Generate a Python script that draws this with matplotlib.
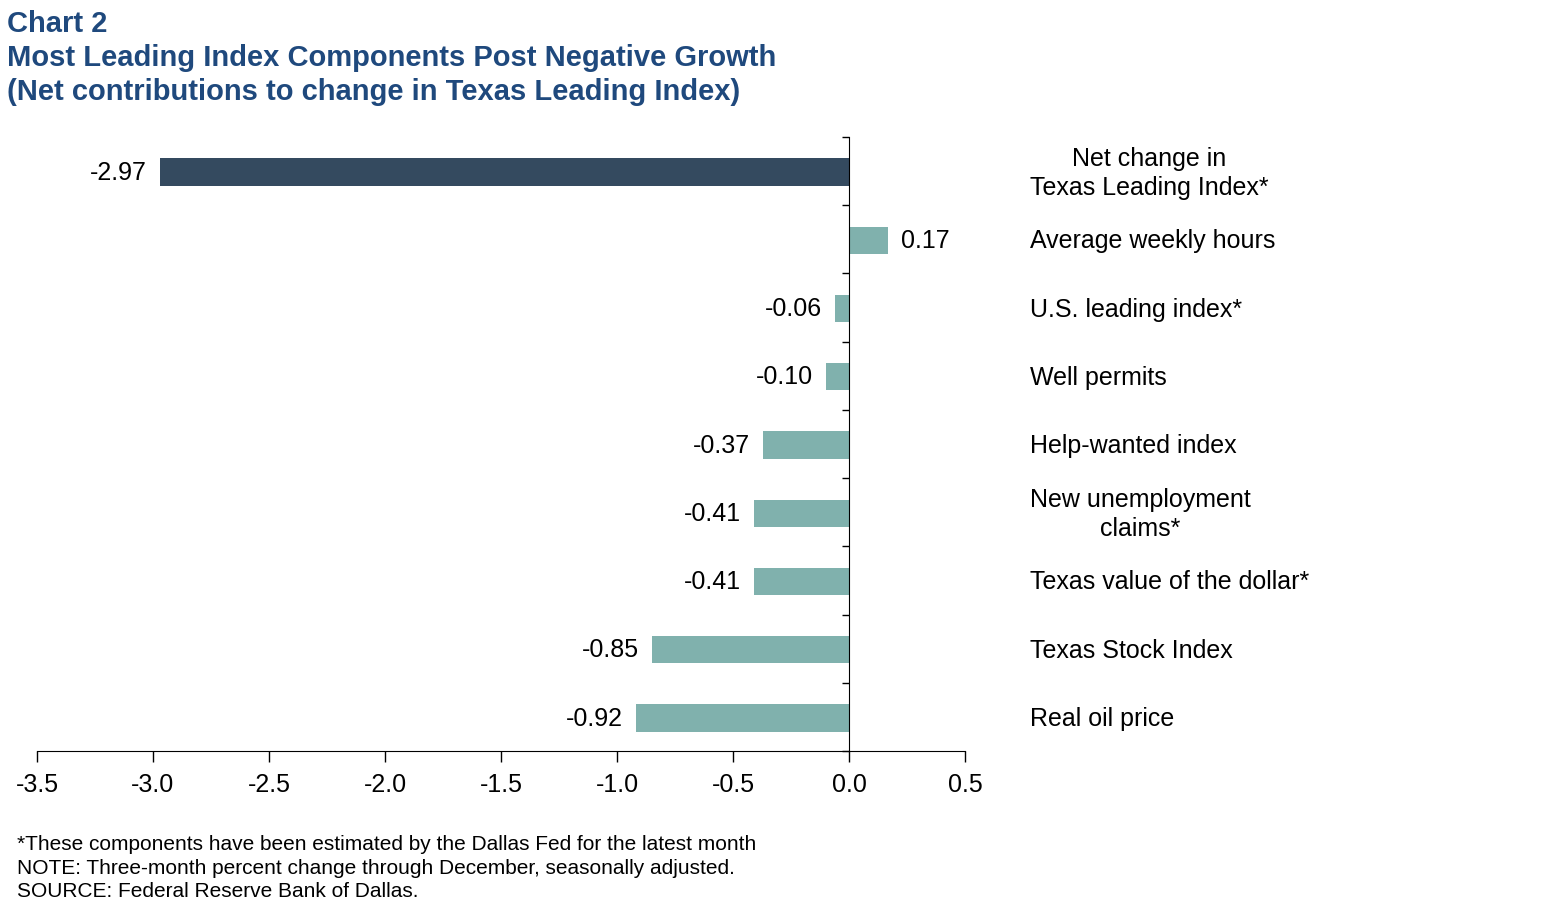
import matplotlib.pyplot as plt
import numpy as np

plt.rcParams['font.family'] = ['Liberation Sans', 'DejaVu Sans']

categories = ['Net change in\nTexas Leading Index*', 'Average weekly hours',
              'U.S. leading index*', 'Well permits', 'Help-wanted index',
              'New unemployment\nclaims*', 'Texas value of the dollar*',
              'Texas Stock Index', 'Real oil price']
values = [-2.97, 0.17, -0.06, -0.10, -0.37, -0.41, -0.41, -0.85, -0.92]
x_ticks = [-3.5, -3.0, -2.5, -2.0, -1.5, -1.0, -0.5, 0.0, 0.5]

dark = '#344a5f'
teal = '#80b1ad'
title_color = '#1f497d'

fig = plt.figure(figsize=(15.58, 9.22), dpi=100)
ax = fig.add_axes([0.02375, 0.1855, 0.5956, 0.6659])

y = np.arange(len(values))
colors = [dark] + [teal] * (len(values) - 1)
ax.barh(y + 0.015, values, height=0.4, color=colors, zorder=2)

# value labels beside each bar
for yi, v in zip(y, values):
    if v < 0:
        ax.text(v - 0.055, yi + 0.025, f'{v:.2f}', ha='right', va='center', fontsize=18)
    else:
        ax.text(v + 0.055, yi + 0.025, f'{v:.2f}', ha='left', va='center', fontsize=18)

# category names on the right
for yi, lab in zip(y, categories):
    ax.text(0.78, yi + 0.03, lab, ha='left', va='center', multialignment='center',
            fontsize=18, clip_on=False, linespacing=1.25)

ax.set_xlim(-3.5, 0.5)
ax.set_ylim(8.5, -0.5)
ax.set_xticks(x_ticks)
ax.set_xticklabels([f'{t:.1f}' for t in x_ticks], fontsize=18)
ax.set_yticks(np.arange(-0.5, 9.0, 1.0))
ax.set_yticklabels([])
ax.tick_params(axis='x', direction='out', length=8, width=1, pad=8)
ax.tick_params(axis='y', direction='out', length=5, width=1)

ax.spines['left'].set_position(('data', 0))
ax.spines['top'].set_visible(False)
ax.spines['right'].set_visible(False)

fig.text(0.0045, 0.974, 'Chart 2', fontsize=21, fontweight='bold',
         color=title_color, va='center')
fig.text(0.0045, 0.937, 'Most Leading Index Components Post Negative Growth',
         fontsize=21, fontweight='bold', color=title_color, va='center')
fig.text(0.0045, 0.900, '(Net contributions to change in Texas Leading Index)',
         fontsize=21, fontweight='bold', color=title_color, va='center')

notes = ['*These components have been estimated by the Dallas Fed for the latest month',
         'NOTE: Three-month percent change through December, seasonally adjusted.',
         'SOURCE: Federal Reserve Bank of Dallas.']
for i, n in enumerate(notes):
    fig.text(0.011, 0.084 - i * 0.0255, n, fontsize=15, va='center')

fig.savefig('out.png', dpi=100)
